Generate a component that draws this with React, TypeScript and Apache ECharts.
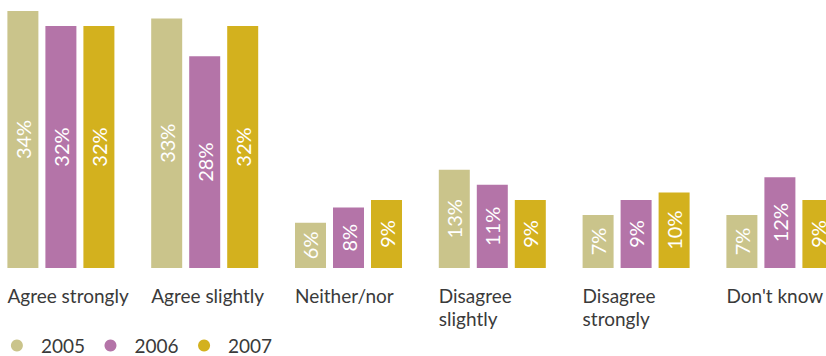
import React, { useEffect, useRef } from "react";
import * as echarts from "echarts";

const categories = [
  "Agree strongly",
  "Agree slightly",
  "Neither/nor",
  "Disagree\nslightly",
  "Disagree\nstrongly",
  "Don't know",
];
const years = ["2005", "2006", "2007"];
const values2005 = [34, 33, 6, 13, 7, 7];
const values2006 = [32, 28, 8, 11, 9, 12];
const values2007 = [32, 32, 9, 9, 10, 9];
const colors = ["#CAC48B", "#B474A8", "#D3B11E"];

const FONT = "Lato, 'Open Sans', sans-serif";
const SHIFT = 11.4;

export default function App() {
  const ref = useRef<HTMLDivElement>(null);
  useEffect(() => {
    document.body.style.margin = "0";
    const chart = echarts.init(ref.current!, null, { renderer: "svg" });
    const seriesData = [values2005, values2006, values2007];
    chart.setOption({
      animation: false,
      textStyle: { fontFamily: FONT },
      grid: { left: 0, width: 862.8, top: 3.4, height: 264.6 },
      legend: {
        left: SHIFT + 5.5,
        top: 331,
        icon: "circle",
        itemWidth: 38,
        itemHeight: 12,
        itemGap: 19.5,
        data: years,
        textStyle: {
          fontFamily: FONT,
          fontSize: 19,
          color: "#3a3a3a",
        },
      },
      xAxis: {
        type: "category",
        data: categories,
        axisLine: { show: false },
        axisTick: { show: false },
        axisLabel: {
          interval: 0,
          margin: 16,
          align: "center",
          formatter: (v: string) =>
            v
              .split("\n")
              .map((l) => `{a|${l}}`)
              .join("\n"),
          rich: {
            a: {
              width: 107,
              align: "left",
              fontSize: 19,
              lineHeight: 23,
              color: "#3a3a3a",
              fontFamily: FONT,
            },
          },
        },
      },
      yAxis: {
        type: "value",
        min: 0,
        max: 35,
        show: false,
        splitLine: { show: false },
      },
      series: years.map((y, i) => ({
        name: y,
        type: "bar",
        data: seriesData[i],
        barWidth: 31,
        barGap: "22.6%",
        itemStyle: { color: colors[i] },
        label: {
          show: true,
          position: "inside",
          rotate: 90,
          formatter: "{c}%",
          color: "#ffffff",
          fontSize: 20,
          fontFamily: FONT,
        },
      })),
    });
    return () => chart.dispose();
  }, []);
  return (
    <div
      style={{
        position: "relative",
        width: 826,
        height: 356,
        overflow: "hidden",
      }}
    >
      <div
        ref={ref}
        style={{
          position: "absolute",
          left: -SHIFT,
          top: 0,
          width: 870,
          height: 356,
        }}
      />
    </div>
  );
}
